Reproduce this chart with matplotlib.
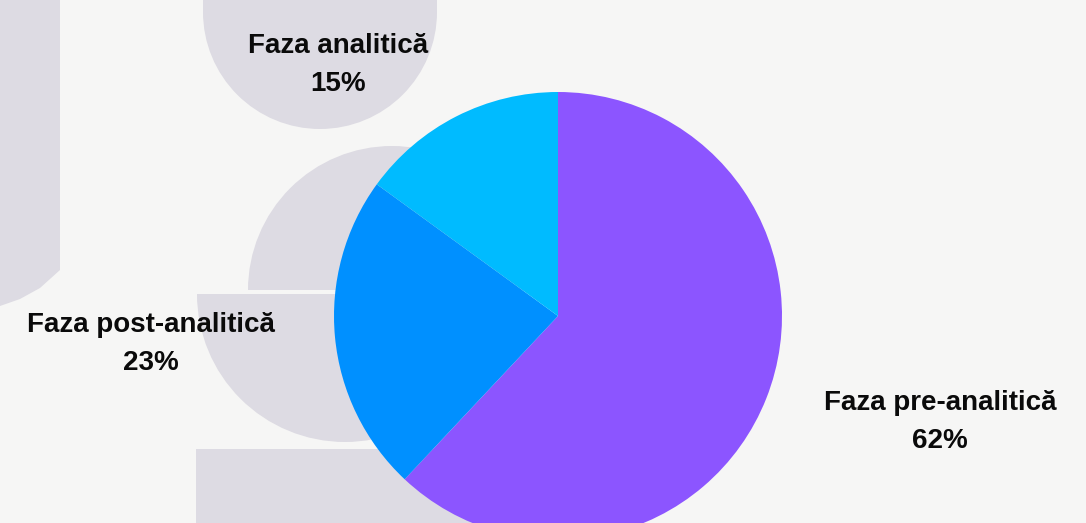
import matplotlib.pyplot as plt
from matplotlib.patches import Wedge, Rectangle, Polygon

# Ponderea erorilor pe faze
faze = ['Faza pre-analitică', 'Faza post-analitică', 'Faza analitică']
procente = [62, 23, 15]
culori = ['#8c55ff', '#0090ff', '#00bbff']

fig = plt.figure(figsize=(10.86, 5.23), dpi=100)
fig.patch.set_facecolor('#f6f6f5')

# fundal: sigla decolorata, in coordonate de pixeli
bg = fig.add_axes([0, 0, 1, 1])
bg.set_xlim(0, 1086)
bg.set_ylim(523, 0)
bg.axis('off')
gri = '#dddbe3'
bg.add_patch(Polygon([(0, 0), (60, 0), (60, 270), (40, 288), (20, 299), (0, 306)], color=gri, lw=0))
bg.add_patch(Rectangle((203, -5), 234, 18, color=gri, lw=0))
bg.add_patch(Wedge((320, 12), 117, 0, 180, color=gri, lw=0))
bg.add_patch(Wedge((392, 290), 144, 180, 360, color=gri, lw=0))
bg.add_patch(Wedge((345, 294), 148, 0, 180, color=gri, lw=0))
bg.add_patch(Rectangle((196, 449), 380, 80, color=gri, lw=0))

# placinta
ax = fig.add_axes([0, 0, 1, 1])
ax.patch.set_alpha(0)
ax.pie(procente, colors=culori, startangle=90, counterclock=False,
       radius=1, center=(0, 0), wedgeprops={'linewidth': 0})
ax.set_xlim(-558 / 224, (1086 - 558) / 224)
ax.set_ylim(-(523 - 316) / 224, 316 / 224)
ax.set_aspect('auto')
ax.axis('off')

# etichete
poz = [(940, 422), (151, 344), (338, 65)]
for nume, p, (px, py) in zip(faze, procente, poz):
    x = (px - 558) / 224
    y = (316 - py) / 224
    ax.text(x, y, f'{nume}\n{p}%', ha='center', va='center', fontsize=20,
            fontweight='bold', family='Liberation Sans', linespacing=1.6,
            color='#0a0a0a')

fig.savefig('out.png', dpi=100, facecolor=fig.get_facecolor())
